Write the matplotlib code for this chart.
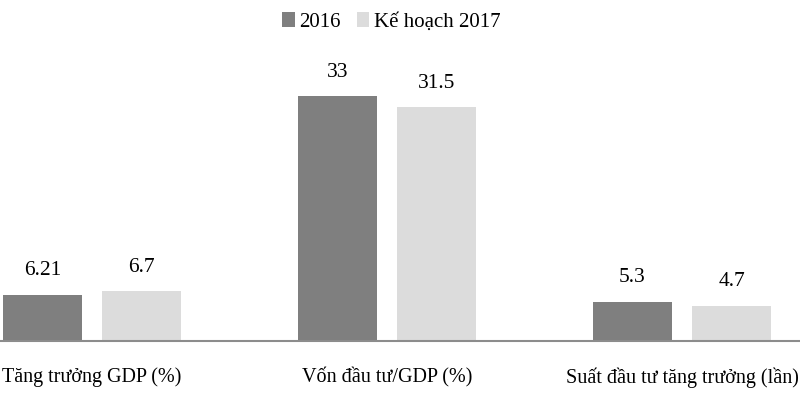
import matplotlib
matplotlib.use("Agg")
import matplotlib.pyplot as plt
import numpy as np

plt.rcParams['font.family'] = ['Liberation Serif', 'DejaVu Serif']

categories = ["Tăng trưởng GDP (%)", "Vốn đầu tư/GDP (%)", "Suất đầu tư tăng trưởng (lần)"]
series_names = ["2016", "Kế hoạch 2017"]
values_2016 = [6.21, 33, 5.3]
values_2017 = [6.7, 31.5, 4.7]
labels_2016 = ["6.21", "33", "5.3"]
labels_2017 = ["6.7", "31.5", "4.7"]

fig = plt.figure(figsize=(8, 4), dpi=100)
ax = fig.add_axes([0, 0.1475, 1, 0.8525])

x = np.arange(len(categories))
w = 0.268
off = 0.168
b1 = ax.bar(x - off, values_2016, w, color="#7f7f7f", label=series_names[0])
b2 = ax.bar(x + off, values_2017, w, color="#dcdcdc", label=series_names[1])

for bars, labs in ((b1, labels_2016), (b2, labels_2017)):
    for r, t in zip(bars, labs):
        ax.text(r.get_x() + r.get_width() / 2, r.get_height() + 2.0, t,
                ha="center", va="bottom", fontsize=15.5)

ax.set_xlim(-0.312, 2.4)
ax.set_ylim(0, 46)
ax.set_xticks(x)
ax.set_xticklabels(categories, fontsize=14.5)
ax.tick_params(axis="x", length=0, pad=19)
ax.set_yticks([])
for s in ("top", "right", "left"):
    ax.spines[s].set_visible(False)
ax.spines["bottom"].set_color("#8c8c8c")
ax.spines["bottom"].set_linewidth(1.5)

ax.legend(loc="upper center", bbox_to_anchor=(0.489, 1.02), ncol=2, frameon=False,
          fontsize=15, handlelength=0.6, handleheight=0.7, handletextpad=0.2,
          columnspacing=0.8)

fig.savefig("out.png", dpi=100)
